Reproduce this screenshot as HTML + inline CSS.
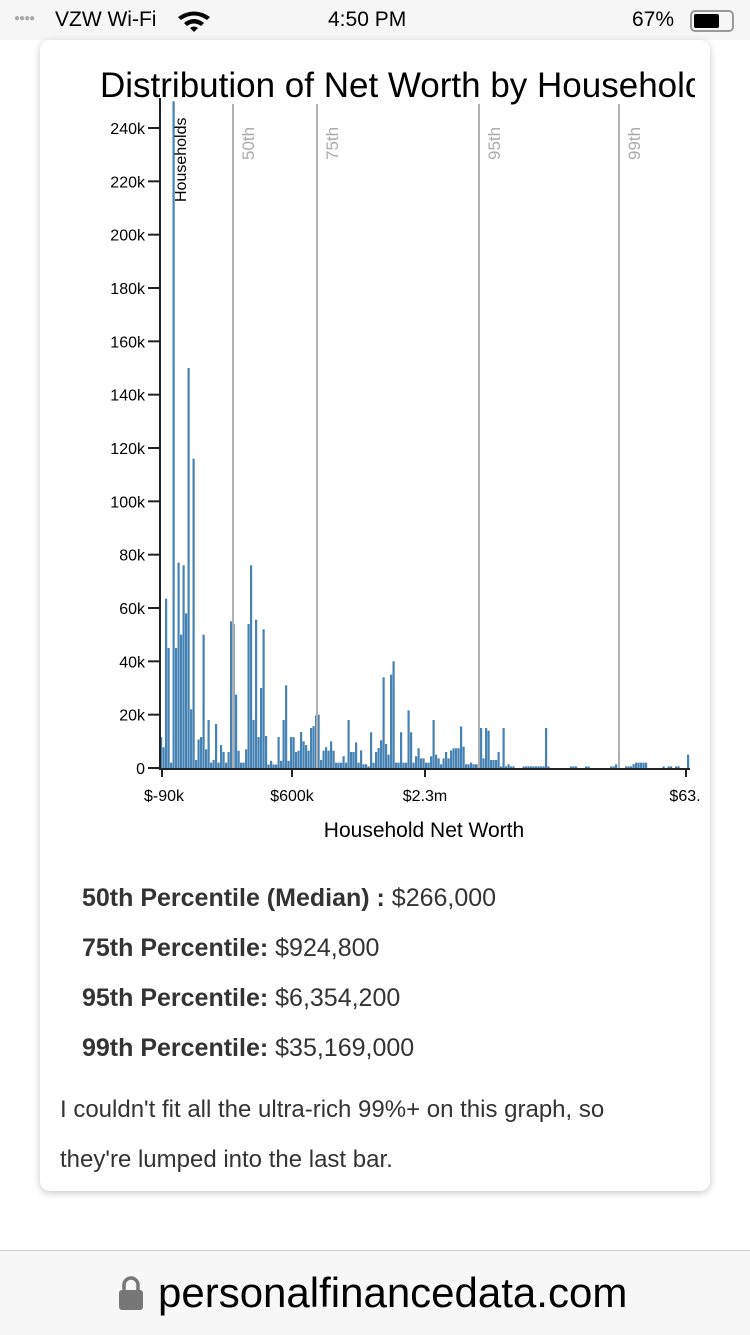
<!DOCTYPE html>
<html><head><meta charset="utf-8">
<style>
html,body{margin:0;padding:0;width:750px;height:1334px;background:#fff;overflow:hidden;font-family:"Liberation Sans",sans-serif;}
.status{position:absolute;left:0;top:0;width:750px;height:40px;background:#f6f6f6;}
.card{position:absolute;left:40px;top:40px;width:670px;height:1151px;background:#fff;border-radius:10px;box-shadow:0 2px 8px rgba(0,0,0,0.22);overflow:hidden;}
.bottom{position:absolute;left:0;top:1250px;width:750px;height:84px;background:#f7f7f7;border-top:1px solid #ccc;}
.p{position:absolute;font-size:25px;color:#333;white-space:nowrap;}
.p b{color:#333;}
</style></head><body>
<div class="status">
  <div style="position:absolute;left:14px;top:13px;font-size:10px;color:#aaa;letter-spacing:-1px">●●●●</div>
  <div style="position:absolute;left:55px;top:8px;font-size:21px;color:#000">VZW Wi-Fi</div>
  <svg style="position:absolute;left:176px;top:10px" width="40" height="22" viewBox="0 0 40 22"><path d="M2 7 Q18 -4 34 7 L31 10 Q18 1 5 10Z M8 13 Q18 5 28 13 L25 16 Q18 11 11 16Z M14 18 Q18 15 22 18 L18 22Z" fill="#000"/></svg>
  <div style="position:absolute;left:328px;top:8px;font-size:21px;color:#000">4:50 PM</div>
  <div style="position:absolute;left:632px;top:8px;font-size:21px;color:#000">67%</div>
  <div style="position:absolute;left:690px;top:10px;width:40px;height:18px;border:2px solid #999;border-radius:5px;"><div style="margin:2px;width:25px;height:14px;background:#000;border-radius:2px"></div></div>
</div>
<div class="card">
<svg width="670" height="830" style="position:absolute;left:0;top:0" id="ch">
<svg x="0" y="0" width="655" height="70"><text x="60" y="57" font-size="35" fill="#000" font-family="Liberation Sans,sans-serif">Distribution of Net Worth by Household</text></svg>
<g id="bars" fill="#4682b4"></g>
<g stroke="#b0b0b0" stroke-width="2">
<line x1="193" y1="64" x2="193" y2="728"/><line x1="277" y1="64" x2="277" y2="728"/><line x1="439" y1="64" x2="439" y2="728"/><line x1="579" y1="64" x2="579" y2="728"/>
</g>
<g fill="#aaa" font-size="17">
<text transform="translate(214,120) rotate(-90)">50th</text>
<text transform="translate(298,120) rotate(-90)">75th</text>
<text transform="translate(460,120) rotate(-90)">95th</text>
<text transform="translate(600,120) rotate(-90)">99th</text>
</g>
<text transform="translate(146,162) rotate(-90)" font-size="16" fill="#000">Households</text>
<g stroke="#222" stroke-width="2" fill="none">
<line x1="120" y1="58" x2="120" y2="729"/>
<line x1="119" y1="729" x2="650" y2="729"/>
<line x1="122" y1="728" x2="122" y2="737"/><line x1="252" y1="728" x2="252" y2="737"/><line x1="385" y1="728" x2="385" y2="737"/><line x1="646" y1="728" x2="646" y2="737"/>
</g>
<g id="yt" stroke="#222" stroke-width="2"></g>
<g id="yl" font-size="16" fill="#000" text-anchor="end"></g>
<g font-size="16" fill="#000" text-anchor="middle">
<text x="124" y="761">$-90k</text><text x="252" y="761">$600k</text><text x="385" y="761">$2.3m</text><text x="645" y="761">$63.</text>
</g>
<text x="384" y="797" font-size="21" fill="#000" text-anchor="middle">Household Net Worth</text>
</svg>
<div class="p" style="left:42px;top:844px"><b>50th Percentile (Median) :</b> $266,000</div>
<div class="p" style="left:42px;top:894px"><b>75th Percentile:</b> $924,800</div>
<div class="p" style="left:42px;top:944px"><b>95th Percentile:</b> $6,354,200</div>
<div class="p" style="left:42px;top:994px"><b>99th Percentile:</b> $35,169,000</div>
<div class="p" style="left:20px;top:1045px;line-height:50px;font-size:24px">I couldn't fit all the ultra-rich 99%+ on this graph, so<br>they're lumped into the last bar.</div>
</div>
<div class="bottom">
  <svg style="position:absolute;left:118px;top:24px" width="26" height="36" viewBox="0 0 26 36"><path d="M6 16 V10 A7 7 0 0 1 20 10 V16" stroke="#777" stroke-width="3.5" fill="none"/><rect x="1" y="15" width="24" height="20" rx="3" fill="#777"/></svg>
  <div style="position:absolute;left:158px;top:18px;font-size:42px;color:#000">personalfinancedata.com</div>
</div>
<script>
var a=[11.6,7.8,63.5,45,2,250,45,77,50,76,58,150,22,116,3,10.7,11.6,50,7,18,2,3,16.5,2,8.6,6,2,6,55,54,27.5,6.5,2,2,7,54,76,18,55.6,11.6,30,52,12,1.3,2.7,1.3,1.3,11.6,2.7,18,31,2.7,11.6,11.6,6,6.5,13.5,10,8.6,6.5,15,15.7,19.7,20,3,6.5,7.8,6.5,10,6.5,2,2];
var b=[2,4.4,2,18,6,6,9.6,2,6.6,1.4,1.4,0.6,13.4,2,6,7.5,10.4,34,9,5,35,40,2,2,13.4,2,2,21.6,13.4,2,4.4,7.4,3.6,3.6,2,2,4.4,18,5,3.6,1.4,3.6,6,3.6,6.6,7.4,7.4,7.4,15.6,8,1.4,1.4,2,1.4,1.4,1.4,15,3.6,15,14,3,3,3,6,0.6,15,0.6,1.4,0.6,0.6];
for(var i=0;i<3;i++)b.push(0);
for(var i=0;i<9;i++)b.push(0.6);
b.push(15,0.6);for(i=0;i<8;i++)b.push(0);
b.push(0.6,0.6,0.6);for(i=0;i<3;i++)b.push(0);b.push(0.6,0.6);for(i=0;i<8;i++)b.push(0);
b.push(0.6,0.6,1.4);for(i=0;i<3;i++)b.push(0);b.push(0.6,0.6,0.6,1.4);for(i=0;i<5;i++)b.push(2);
for(i=0;i<6;i++)b.push(0);b.push(0.6,0);b.push(0.6,0.6,0);b.push(0.6,0.6,0);
var all=a.concat(b),s='';
for(i=0;i<all.length;i++){var h=all[i]*640/240;if(h<=0)continue;var x=120+2.5*i;if(x>648)break;s+='<rect x="'+x+'" y="'+(728-h)+'" width="2.2" height="'+h+'"/>';}
s+='<rect x="647" y="'+(728-13.3)+'" width="2.2" height="13.3"/>';
document.getElementById('bars').innerHTML=s;
var t='',l='';for(var k=0;k<=240;k+=20){var y=728-k*640/240;t+='<line x1="108" y1="'+y+'" x2="120" y2="'+y+'"/>';l+='<text x="105" y="'+(y+6)+'">'+(k?k+'k':'0')+'</text>';}
document.getElementById('yt').innerHTML=t;document.getElementById('yl').innerHTML=l;
</script>
</body></html>
